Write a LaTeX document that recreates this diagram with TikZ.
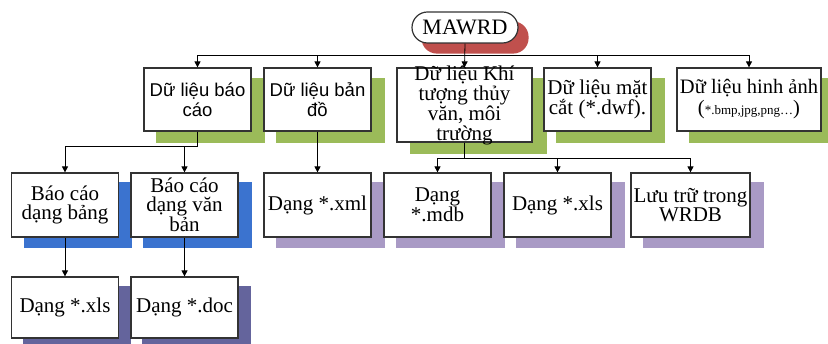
\documentclass[tikz,border=0pt]{standalone}
\usepackage{fontspec}
\setmainfont{Liberation Serif}
\newfontfamily\sansf{Liberation Sans}
\usetikzlibrary{arrows.meta}
\definecolor{cred}{HTML}{C0504D}
\definecolor{cgreen}{HTML}{9BBB59}
\definecolor{cblue}{HTML}{3B73CF}
\definecolor{cpurple}{HTML}{A99AC5}
\definecolor{cdark}{HTML}{64649C}
\definecolor{cborder}{HTML}{333333}
\pgfdeclarelayer{bg}
\pgfsetlayers{bg,main}
\newcommand\shd[3]{\fill[#1] ([shift={(#3)}]#2.north west) rectangle ([shift={(#3)}]#2.south east);}
\begin{document}
\begin{tikzpicture}[x=1pt,y=-1pt,
  box/.style={draw=cborder, line width=1.2pt, fill=white, align=center, inner sep=0pt,
    font=\fontsize{21}{19}\selectfont},
  boxa/.style={box, minimum width=107pt, minimum height=63pt},
  boxb/.style={box, minimum width=107pt, minimum height=64pt},
  boxc/.style={box, minimum width=107pt, minimum height=61pt},
  txt/.style={align=center, inner sep=0pt, font=\fontsize{21}{20}\selectfont},
  sanstxt/.style={font=\sansf\fontsize{18.5}{20}\selectfont},
  arr/.style={-{Triangle[length=6pt,width=6pt]}, line width=0.8pt},
  ln/.style={line width=0.8pt}]
\useasboundingbox (0,0) rectangle (828,344);

% root
\node[box, rounded corners=15.5pt, minimum width=106pt, minimum height=31pt, font=\fontsize{22}{22}\selectfont] (M) at (465,27.5) {MAWRD};

% level 1
\node[boxa, sanstxt] (B1) at (197.5,99.5) {Dữ liệu báo\\cáo};
\node[boxa, sanstxt] (B2) at (317.5,99.5) {Dữ liệu bản\\đồ};
\node[box, minimum width=135pt, minimum height=74pt] (B3) at (464.5,105) {};
\node[txt] (B3t) at (B3.center) {Dữ liệu Khí\\tượng thủy\\văn, môi\\trường};
\node[boxa, font=\fontsize{21}{20}\selectfont] (B4) at (597.5,99.5) {Dữ liệu mặt\\cắt (*.dwf).};
\node[box, minimum width=144pt, minimum height=63pt, font=\fontsize{20.5}{21}\selectfont] (B5) at (749,99.5)
  {Dữ liệu hinh ảnh\\({\fontsize{13}{13}\selectfont *.bmp,jpg,png…})};

% level 2
\node[boxb] (L2a) at (65,205) {Báo cáo\\dạng bảng};
\node[boxb] (L2b) at (184.5,205) {Báo cáo\\dạng văn\\bản};
\node[boxb] (L2c) at (317.5,205) {Dạng *.xml};
\node[boxb] (L2d) at (437.5,205) {Dạng\\*.mdb};
\node[boxb] (L2e) at (557.5,205) {Dạng *.xls};
\node[box, minimum width=119pt, minimum height=64pt] (L2f) at (690.5,205) {Lưu trữ trong\\WRDB};

% level 3
\node[boxc] (L3a) at (65,307.5) {Dạng *.xls};
\node[boxc] (L3b) at (184.5,307.5) {Dạng *.doc};

% shadows
\begin{pgfonlayer}{bg}
  \fill[cred, rounded corners=15.5pt] ([shift={(10,10)}]M.north west) rectangle ([shift={(10,10)}]M.south east);
  \shd{cgreen}{B1}{13,11}
  \shd{cgreen}{B2}{13,11}
  \shd{cgreen}{B3}{14,11}
  \shd{cgreen}{B4}{13,11}
  \shd{cgreen}{B5}{13,11}
  \shd{cblue}{L2a}{13,10}
  \shd{cblue}{L2b}{13,10}
  \shd{cpurple}{L2c}{13,10}
  \shd{cpurple}{L2d}{13,10}
  \shd{cpurple}{L2e}{13,10}
  \shd{cpurple}{L2f}{13,10}
  \shd{cdark}{L3a}{12,10}
  \shd{cdark}{L3b}{12,10}
\end{pgfonlayer}

% connectors
\coordinate (bar) at (465,55);
\draw[arr] (M.south) -- (B3.north);
\draw[arr] (bar) -| (B1.north);
\draw[arr] (bar) -| (B2.north);
\draw[arr] (bar) -| (B4.north);
\draw[arr] (bar) -| (B5.north);

\draw[arr] (B1.south) -- ++(0,15) -| (L2a.north);
\draw[arr] (B1.south) -- ++(0,15) -| (L2b.north);
\draw[arr] (B2.south) -- (L2c.north);
\draw[arr] (B3.south) -- ++(0,16) -| (L2d.north);
\draw[arr] (B3.south) -- ++(0,16) -| (L2e.north);
\draw[arr] (B3.south) -- ++(0,16) -| (L2f.north);

\draw[arr] (L2a.south) -- (L3a.north);
\draw[arr] (L2b.south) -- (L3b.north);
\end{tikzpicture}
\end{document}
